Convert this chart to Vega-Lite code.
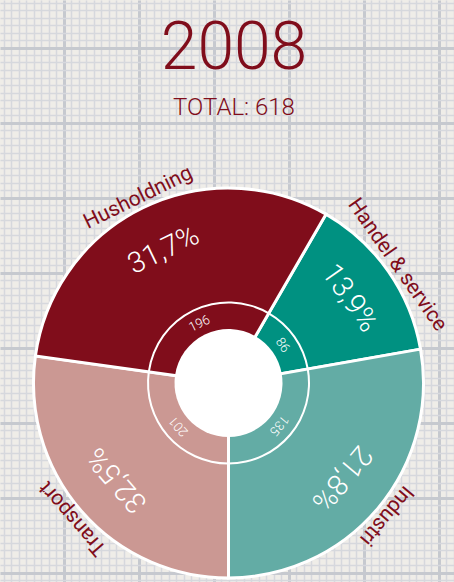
{
  "$schema": "https://vega.github.io/schema/vega-lite/v6.json",
  "width": 454,
  "height": 582,
  "autosize": "none",
  "padding": 0,
  "background": "#EFEDE8",
  "title": {
    "text": "2008",
    "subtitle": "TOTAL: 618",
    "anchor": "middle",
    "orient": "top",
    "offset": -121,
    "dx": 7,
    "font": "Roboto",
    "fontSize": 66,
    "fontWeight": 300,
    "color": "#800D1B",
    "subtitleFont": "Roboto",
    "subtitleFontSize": 24,
    "subtitleFontWeight": 300,
    "subtitleColor": "#800D1B",
    "subtitlePadding": 13
  },
  "data": {
    "values": [
      {"cat": "Handel & service", "pct": "13,9%", "n": 86, "share": 50, "ord": 1},
      {"cat": "Industri", "pct": "21,8%", "n": 135, "share": 100, "ord": 2},
      {"cat": "Transport", "pct": "32,5%", "n": 201, "share": 98, "ord": 3},
      {"cat": "Husholdning", "pct": "31,7%", "n": 196, "share": 112, "ord": 4}
    ]
  },
  "transform": [
    {"window": [{"op": "sum", "field": "share", "as": "cum"}], "sort": [{"field": "ord"}]},
    {"calculate": "30 + datum.cum - datum.share / 2", "as": "mid"}
  ],
  "encoding": {
    "theta": {"field": "share", "type": "quantitative", "stack": true, "scale": {"range": [0.5235988, 6.8067841]}},
    "order": {"field": "ord", "type": "quantitative"},
    "x": {"datum": 228.5, "type": "quantitative",
      "scale": {"domain": [0, 454], "nice": false, "zero": false},
      "axis": {
        "orient": "bottom", "domain": false, "ticks": false, "labels": false, "title": null,
        "minExtent": 0, "maxExtent": 0, "offset": 0,
        "grid": true,
        "values": [3.5, 11, 18.5, 26, 33.5, 41, 48.5, 56, 63.5, 71, 78.5, 86, 93.5, 101, 108.5, 116, 123.5, 131, 138.5, 146, 153.5, 161, 168.5, 176, 183.5, 191, 198.5, 206, 213.5, 221, 228.5, 236, 243.5, 251, 258.5, 266, 273.5, 281, 288.5, 296, 303.5, 311, 318.5, 326, 333.5, 341, 348.5, 356, 363.5, 371, 378.5, 386, 393.5, 401, 408.5, 416, 423.5, 431, 438.5, 446, 453.5],
        "gridColor": {"condition": {"test": "(datum.value - 63.5) % 75 === 0", "value": "#C6C9CF"}, "value": "#D6D8DD"},
        "gridWidth": {"condition": {"test": "(datum.value - 63.5) % 75 === 0", "value": 3}, "value": 1.5}
      }
    },
    "y": {"datum": 383, "type": "quantitative",
      "scale": {"domain": [0, 582], "nice": false, "zero": false, "reverse": true},
      "axis": {
        "orient": "left", "domain": false, "ticks": false, "labels": false, "title": null,
        "minExtent": 0, "maxExtent": 0, "offset": 0,
        "grid": true,
        "values": [2.5, 10, 17.5, 25, 32.5, 40, 47.5, 55, 62.5, 70, 77.5, 85, 92.5, 100, 107.5, 115, 122.5, 130, 137.5, 145, 152.5, 160, 167.5, 175, 182.5, 190, 197.5, 205, 212.5, 220, 227.5, 235, 242.5, 250, 257.5, 265, 272.5, 280, 287.5, 295, 302.5, 310, 317.5, 325, 332.5, 340, 347.5, 355, 362.5, 370, 377.5, 385, 392.5, 400, 407.5, 415, 422.5, 430, 437.5, 445, 452.5, 460, 467.5, 475, 482.5, 490, 497.5, 505, 512.5, 520, 527.5, 535, 542.5, 550, 557.5, 565, 572.5, 580],
        "gridColor": {"condition": {"test": "(datum.value - 47.5) % 75 === 0", "value": "#C6C9CF"}, "value": "#D6D8DD"},
        "gridWidth": {"condition": {"test": "(datum.value - 47.5) % 75 === 0", "value": 3}, "value": 1.5}
      }
    }
  },
  "layer": [
    {
      "mark": {"type": "arc", "outerRadius": 195, "innerRadius": 0, "stroke": "white", "strokeWidth": 3},
      "encoding": {
        "color": {"field": "cat", "type": "nominal", "legend": null,
          "scale": {"domain": ["Husholdning", "Handel & service", "Industri", "Transport"], "range": ["#800D1B", "#009181", "#63ACA5", "#CB9893"]}}
      }
    },
    {
      "mark": {"type": "arc", "outerRadius": 81.5, "innerRadius": 79.5, "fill": "white", "strokeWidth": 0}
    },
    {
      "mark": {"type": "arc", "outerRadius": 54, "innerRadius": 0, "fill": "white", "strokeWidth": 0}
    },
    {
      "mark": {"type": "text", "radius": 148, "font": "Roboto", "fontWeight": 300, "fontSize": 29, "fill": "white", "align": "center", "baseline": "middle"},
      "encoding": {
        "text": {"field": "pct"},
        "angle": {"field": "mid", "type": "quantitative", "scale": null}
      }
    },
    {
      "mark": {"type": "text", "radius": 66, "font": "Roboto", "fontWeight": 300, "fontSize": 13, "fill": "white", "align": "center", "baseline": "middle"},
      "encoding": {
        "text": {"field": "n"},
        "angle": {"field": "mid", "type": "quantitative", "scale": null}
      }
    },
    {
      "mark": {"type": "text", "radius": 200, "font": "Roboto", "fontWeight": 400, "fontSize": 21, "fill": "#800D1B", "align": "center", "baseline": "alphabetic"},
      "encoding": {
        "text": {"field": "cat"},
        "angle": {"field": "mid", "type": "quantitative", "scale": null}
      }
    }
  ],
  "config": {"view": {"stroke": null}}
}
